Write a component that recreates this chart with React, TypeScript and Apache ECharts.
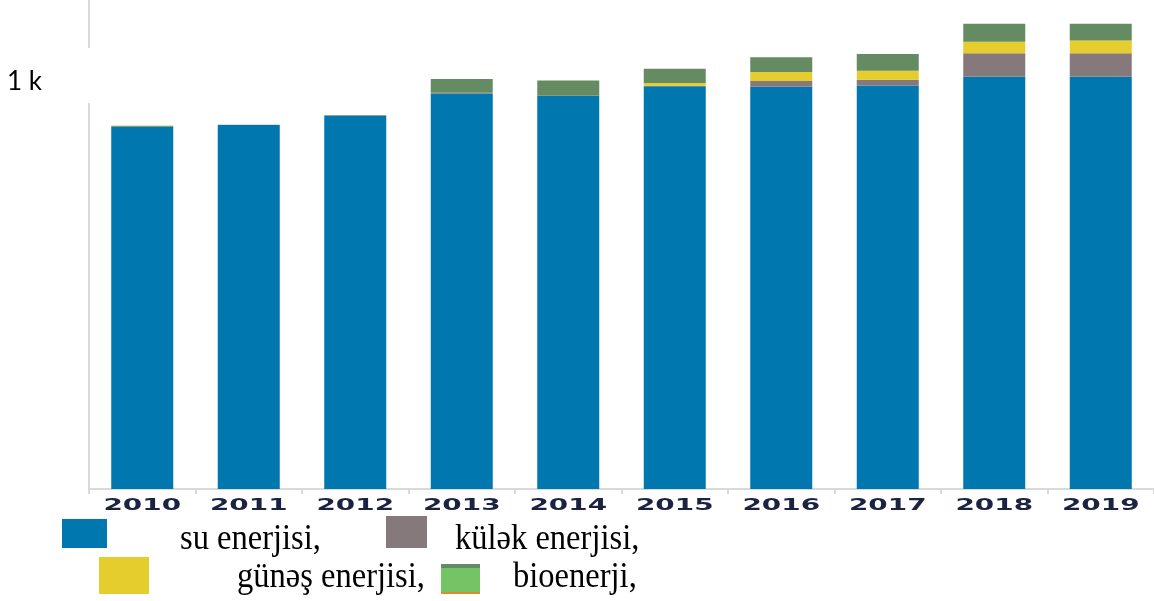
import React, { useEffect, useRef } from "react";
import * as echarts from "echarts";

const years = ["2010", "2011", "2012", "2013", "2014", "2015", "2016", "2017", "2018", "2019"];
const hydro = [887, 890, 912, 967, 961, 985, 984, 987, 1008, 1008];
const wind = [0, 0, 0, 2, 1, 1, 14, 14, 58, 58];
const solar = [2, 0, 0, 0, 0, 7, 22, 22, 28, 31];
const bio = [0, 1, 2, 34, 37, 35, 36, 41, 44, 41];

const seriesNames = ["su enerjisi,", "külək enerjisi,", "günəş enerjisi,", "bioenerji,"];
const colors = ["#0077ae", "#86797c", "#e5cd2e", "#658b63"];

export default function App() {
  const ref = useRef<HTMLDivElement>(null);
  useEffect(() => {
    if (!ref.current) return;
    const chart = echarts.init(ref.current, null, { renderer: "svg" });
    const values = [hydro, wind, solar, bio];
    const legendFont = { fontFamily: "Liberation Serif", fontSize: 35, fill: "#000", textVerticalAlign: "middle" };
    const baseGraphic: any[] = [
      { type: "rect", z: 100, shape: { x: 84, y: 48, width: 12, height: 55 }, style: { fill: "#fff" } },
      { type: "rect", z: 100, shape: { x: 62, y: 519, width: 45, height: 29 }, style: { fill: colors[0] } },
      { type: "text", z: 100, x: 180, y: 537, scaleX: 0.93, style: { ...legendFont, text: seriesNames[0] } },
      { type: "rect", z: 100, shape: { x: 386, y: 516, width: 41, height: 32 }, style: { fill: colors[1] } },
      { type: "text", z: 100, x: 455, y: 537, scaleX: 0.93, style: { ...legendFont, text: seriesNames[1] } },
      { type: "rect", z: 100, shape: { x: 99, y: 557, width: 50, height: 37 }, style: { fill: colors[2] } },
      { type: "text", z: 100, x: 237, y: 575, scaleX: 0.93, style: { ...legendFont, text: seriesNames[2] } },
      { type: "rect", z: 100, shape: { x: 441, y: 564, width: 39, height: 30 }, style: { fill: "#74c365" } },
      { type: "rect", z: 101, shape: { x: 441, y: 564, width: 39, height: 4 }, style: { fill: colors[3] } },
      { type: "rect", z: 101, shape: { x: 441, y: 592, width: 39, height: 2 }, style: { fill: "#e08a2a" } },
      { type: "text", z: 100, x: 513, y: 575, scaleX: 0.93, style: { ...legendFont, text: seriesNames[3] } },
    ];
    chart.setOption({
      animation: false,
      grid: { left: 89, top: 0, width: 1067, bottom: 112, containLabel: false },
      xAxis: {
        type: "category",
        data: years,
        axisLine: { lineStyle: { color: "#d9d9d9", width: 2 } },
        axisTick: { show: true, length: 5, lineStyle: { color: "#d9d9d9", width: 2 } },
        axisLabel: { show: false },
      },
      yAxis: {
        type: "value",
        min: 0,
        max: 1196,
        interval: 1000,
        splitLine: { show: false },
        axisLine: { show: true, lineStyle: { color: "#d9d9d9", width: 2 } },
        axisTick: { show: false },
        axisLabel: {
          formatter: (v: number) => (v === 1000 ? "1 k" : ""),
          fontFamily: "Lato",
          fontSize: 26,
          color: "#000",
          margin: 47,
        },
      },
      series: values.map((d, i) => ({
        name: seriesNames[i],
        type: "bar",
        stack: "total",
        barWidth: 62,
        data: d,
        itemStyle: { color: colors[i] },
      })),
      graphic: baseGraphic,
    });
    const yearLabels = years.map((y) => {
      const px = chart.convertToPixel({ xAxisIndex: 0 }, y) as number;
      return {
        type: "text",
        z: 100,
        x: px,
        y: 504.5,
        scaleX: 1.8,
        style: {
          text: y,
          fontFamily: "DejaVu Sans",
          fontWeight: 600,
          fontSize: 15.5,
          fill: "#1c2340",
          textAlign: "center",
          textVerticalAlign: "middle",
        },
      };
    });
    chart.setOption({ graphic: [...baseGraphic, ...yearLabels] });
    return () => chart.dispose();
  }, []);
  return <div ref={ref} style={{ position: "fixed", left: 0, top: 0, width: 1154, height: 601 }} />;
}
